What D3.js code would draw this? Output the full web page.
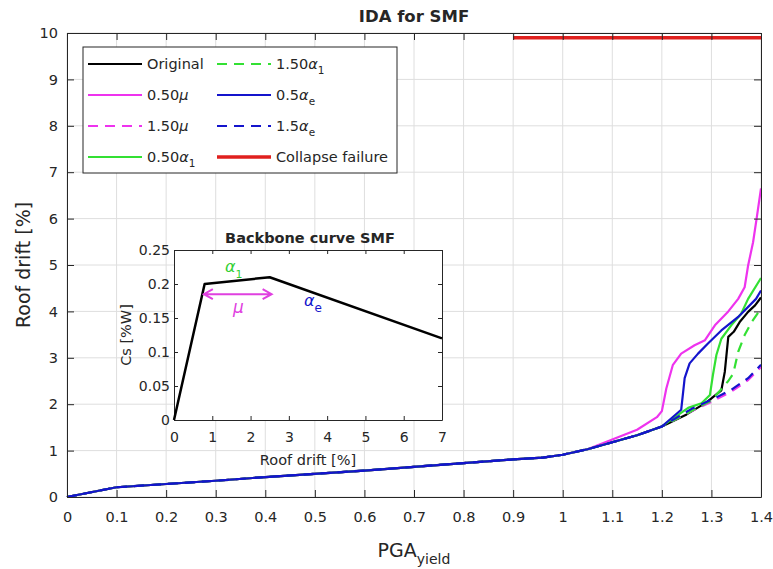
<!DOCTYPE html>
<html><head><meta charset="utf-8">
<script src="https://cdn.jsdelivr.net/npm/d3@7"></script>
<style>body{margin:0;background:#fff} text{font-family:"DejaVu Sans",sans-serif;fill:#262626}</style>
</head><body><svg id="c" width="773" height="569"></svg>
<script>
// ---------- data ----------
const xTicks = [0,0.1,0.2,0.3,0.4,0.5,0.6,0.7,0.8,0.9,1,1.1,1.2,1.3,1.4];
const yTicks = [0,1,2,3,4,5,6,7,8,9,10];

// shared initial part of every IDA curve
const baseX = [0,0.1,0.2,0.3,0.4,0.5,0.6,0.7,0.8,0.9,0.96,1.0,1.05];
const baseY = [0,0.21,0.28,0.35,0.43,0.5,0.57,0.65,0.73,0.81,0.85,0.91,1.03];

const originalX = [1.1,1.15,1.2,1.25,1.29,1.32,1.327,1.334,1.345,1.357,1.374,1.388,1.4];
const originalY = [1.18,1.33,1.52,1.78,2.04,2.3,2.7,3.45,3.56,3.77,3.99,4.13,4.3];

const mu050X = [1.1,1.15,1.19,1.2,1.209,1.222,1.239,1.266,1.287,1.307,1.334,1.354,1.367,1.374,1.384,1.391,1.4];
const mu050Y = [1.24,1.45,1.72,1.85,2.34,2.84,3.09,3.27,3.38,3.7,4.0,4.27,4.52,4.99,5.49,5.99,6.65];

const mu150X = [1.1,1.15,1.2,1.25,1.3,1.34,1.374,1.4];
const mu150Y = [1.18,1.33,1.52,1.8,2.05,2.27,2.52,2.8];

const a1050X = [1.1,1.15,1.2,1.253,1.28,1.297,1.303,1.31,1.32,1.34,1.36,1.374,1.4];
const a1050Y = [1.18,1.33,1.52,1.92,2.02,2.2,2.63,3.06,3.41,3.7,3.95,4.27,4.72];

const a1150X = [1.1,1.15,1.2,1.25,1.3,1.334,1.344,1.354,1.367,1.381,1.394,1.4];
const a1150Y = [1.18,1.33,1.52,1.8,2.08,2.5,2.66,3.13,3.49,3.77,3.97,3.98];

const ae050X = [1.1,1.15,1.2,1.239,1.246,1.256,1.273,1.293,1.32,1.354,1.39,1.4];
const ae050Y = [1.18,1.33,1.52,1.88,2.56,2.88,3.09,3.31,3.59,3.88,4.27,4.45];

const ae150X = [1.1,1.15,1.2,1.26,1.307,1.34,1.374,1.4];
const ae150Y = [1.18,1.33,1.52,1.9,2.13,2.31,2.56,2.85];

const collapseX = [0.9,1.4];
const collapseY = [9.9,9.9];

const seriesNames = ["Original","0.50μ","1.50μ","0.50α_1","1.50α_1","0.5α_e","1.5α_e","Collapse failure"];

// inset: backbone curve
const backboneX = [0,0.8,2.5,7];
const backboneY = [0,0.2,0.21,0.12];
const insetXTicks = [0,1,2,3,4,5,6,7];
const insetYTicks = [0,0.05,0.1,0.15,0.2,0.25];
const muArrowX = [0.78,2.55];
const muArrowY = 0.185;

// ---------- chart ----------
const svg = d3.select("#c");
const AX = "#262626", GRID = "#dedede";
const x = d3.scaleLinear().domain([0,1.4]).range([67,761]);
const y = d3.scaleLinear().domain([0,10]).range([497,33]);

const zip = (a,b)=>a.map((v,i)=>[v,b[i]]);
const full = (tx,ty)=>zip(baseX,baseY).concat(zip(tx,ty));

const series = [
  {d:full(originalX,originalY), c:"#000000", dash:null},
  {d:full(mu050X,mu050Y), c:"#ee33ee", dash:null},
  {d:full(mu150X,mu150Y), c:"#ee33ee", dash:"10,7"},
  {d:full(a1050X,a1050Y), c:"#33e033", dash:null},
  {d:full(a1150X,a1150Y), c:"#33e033", dash:"10,7"},
  {d:full(ae050X,ae050Y), c:"#1414cc", dash:null},
  {d:full(ae150X,ae150Y), c:"#1414cc", dash:"10,7"},
  {d:zip(collapseX,collapseY), c:"#e0201e", dash:null, w:3.5}
];

// background & grid
svg.append("rect").attr("x",67).attr("y",33).attr("width",694).attr("height",464).attr("fill","#fff");
const grid = svg.append("g").attr("stroke",GRID).attr("stroke-width",1);
grid.selectAll("line.gx").data(xTicks).join("line")
  .attr("x1",d=>x(d)).attr("x2",d=>x(d)).attr("y1",33).attr("y2",497);
grid.selectAll("line.gy").data(yTicks).join("line").attr("class","gy")
  .attr("y1",d=>y(d)).attr("y2",d=>y(d)).attr("x1",67).attr("x2",761);

// curves
const line = d3.line().x(d=>x(d[0])).y(d=>y(d[1]));
svg.append("g").selectAll("path").data(series).join("path")
  .attr("d",d=>line(d.d)).attr("fill","none").attr("stroke",d=>d.c)
  .attr("stroke-width",d=>d.w||2.2).attr("stroke-dasharray",d=>d.dash)
  .attr("stroke-linejoin","round");

// axes
function styleAxis(g, fs){
  g.attr("font-family",null).attr("font-size",null);
  g.selectAll("path.domain").attr("stroke",AX);
  g.selectAll(".tick line").attr("stroke",AX);
  g.selectAll("text").attr("fill",AX).style("font-size",fs+"px");
}
styleAxis(svg.append("g").attr("transform","translate(0,497)")
  .call(d3.axisBottom(x).tickValues(xTicks).tickFormat(d3.format("~g")).tickSize(-7).tickSizeOuter(0).tickPadding(15)),14.5);
styleAxis(svg.append("g").attr("transform","translate(0,33)")
  .call(d3.axisTop(x).tickValues(xTicks).tickFormat("").tickSize(-7).tickSizeOuter(0)),14);
styleAxis(svg.append("g").attr("transform","translate(67,0)")
  .call(d3.axisLeft(y).tickValues(yTicks).tickFormat(d3.format("~g")).tickSize(-7).tickSizeOuter(0).tickPadding(9)),14.5);
styleAxis(svg.append("g").attr("transform","translate(761,0)")
  .call(d3.axisRight(y).tickValues(yTicks).tickFormat("").tickSize(-7).tickSizeOuter(0)),14);

// titles
svg.append("text").attr("x",414).attr("y",22).attr("text-anchor","middle")
  .style("font-size","16.5px").style("font-weight","bold").attr("fill","#000").text("IDA for SMF");
svg.append("text").attr("transform","translate(30,265) rotate(-90)").attr("text-anchor","middle")
  .style("font-size","19px").text("Roof drift [%]");
const xl = svg.append("text").attr("x",414).attr("y",557).attr("text-anchor","middle").style("font-size","19px");
xl.append("tspan").text("PGA");
xl.append("tspan").attr("dy",7).style("font-size","14px").text("yield");

// rich text helper: "α_1" -> alpha + subscript, greek italic
function rich(sel, s, fs){
  const m = s.match(/^(.*?)([αμ]?)(?:_(.))?$/);
  sel.append("tspan").text(m[1]);
  if(m[2]) sel.append("tspan").style("font-style","italic").text(m[2]);
  if(m[3]) sel.append("tspan").attr("dy",fs*0.35).style("font-size",(fs*0.72)+"px").text(m[3]);
}

// legend
const lg = svg.append("g");
lg.append("rect").attr("x",83).attr("y",47).attr("width",314).attr("height",126)
  .attr("fill","#fff").attr("stroke","#262626").attr("stroke-width",1);
series.forEach((s,i)=>{
  const col = Math.floor(i/4), row = i%4;
  const x0 = col ? 217 : 88, yy = 64 + row*31;
  lg.append("line").attr("x1",x0).attr("x2",x0+54).attr("y1",yy).attr("y2",yy)
    .attr("stroke",s.c).attr("stroke-width",s.w?3.5:2.2).attr("stroke-dasharray",s.dash);
  const t = lg.append("text").attr("x",x0+59).attr("y",yy+5).style("font-size","14.5px");
  rich(t, seriesNames[i], 14.5);
});

// inset
const xi = d3.scaleLinear().domain([0,7]).range([174,442]);
const yi = d3.scaleLinear().domain([0,0.25]).range([420,250]);
svg.append("rect").attr("x",174).attr("y",250).attr("width",268).attr("height",170).attr("fill","#fff");
styleAxis(svg.append("g").attr("transform","translate(0,420)")
  .call(d3.axisBottom(xi).tickValues(insetXTicks).tickFormat(d3.format("~g")).tickSize(-4).tickSizeOuter(0).tickPadding(12)),14);
styleAxis(svg.append("g").attr("transform","translate(0,250)")
  .call(d3.axisTop(xi).tickValues(insetXTicks).tickFormat("").tickSize(-4).tickSizeOuter(0)),14);
styleAxis(svg.append("g").attr("transform","translate(174,0)")
  .call(d3.axisLeft(yi).tickValues(insetYTicks).tickFormat(d3.format("~g")).tickSize(-4).tickSizeOuter(0).tickPadding(4)),14);
styleAxis(svg.append("g").attr("transform","translate(442,0)")
  .call(d3.axisRight(yi).tickValues(insetYTicks).tickFormat("").tickSize(-4).tickSizeOuter(0)),14);
svg.append("path").attr("d",d3.line().x(d=>xi(d[0])).y(d=>yi(d[1]))(zip(backboneX,backboneY)))
  .attr("fill","none").attr("stroke","#000").attr("stroke-width",2.5).attr("stroke-linejoin","round");
svg.append("text").attr("x",310).attr("y",243).attr("text-anchor","middle")
  .style("font-size","14.5px").style("font-weight","bold").attr("fill","#000").text("Backbone curve SMF");
svg.append("text").attr("x",308).attr("y",465).attr("text-anchor","middle").style("font-size","14.5px").text("Roof drift [%]");
svg.append("text").attr("transform","translate(131,335) rotate(-90)").attr("text-anchor","middle")
  .style("font-size","14.5px").text("Cs [%W]");

// mu arrow
const ay = yi(muArrowY), ax1 = xi(muArrowX[0]), ax2 = xi(muArrowX[1]);
const MAG = "#e040e0";
svg.append("path").attr("fill","none").attr("stroke",MAG).attr("stroke-width",2)
  .attr("d",`M${ax1},${ay}L${ax2},${ay}M${ax1+9},${ay-5}L${ax1},${ay}L${ax1+9},${ay+5}M${ax2-9},${ay-5}L${ax2},${ay}L${ax2-9},${ay+5}`);
const t1 = svg.append("text").attr("x",225).attr("y",272).style("font-size","16px").attr("fill","#33d033");
t1.append("tspan").style("font-style","italic").style("fill","#33d033").text("α");
t1.append("tspan").attr("dy",6).style("font-size","11px").style("fill","#33d033").text("1");
svg.append("text").attr("x",233).attr("y",313).style("font-size","17px").style("font-style","italic").style("fill",MAG).text("μ");
const t2 = svg.append("text").attr("x",304).attr("y",306).style("font-size","16px");
t2.append("tspan").style("font-style","italic").style("fill","#1414cc").text("α");
t2.append("tspan").attr("dy",6).style("font-size","12px").style("fill","#1414cc").text("e");
</script></body></html>
